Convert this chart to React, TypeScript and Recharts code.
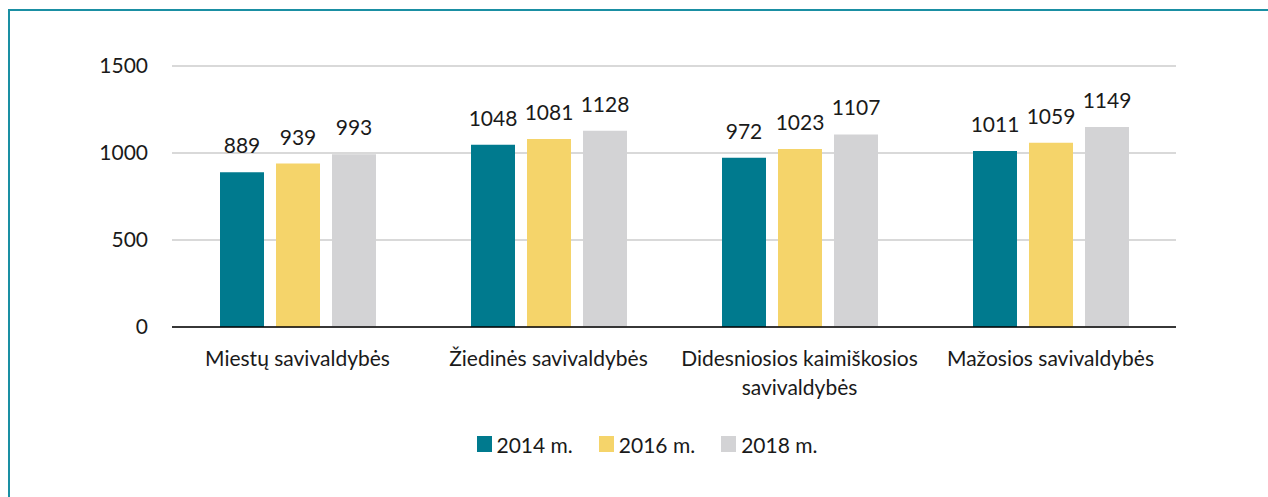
import React from 'react';
import { BarChart, Bar, XAxis, YAxis, CartesianGrid, LabelList, Legend, Text } from 'recharts';

const categories = [
  'Miestų savivaldybės',
  'Žiedinės savivaldybės',
  'Didesniosios kaimiškosios savivaldybės',
  'Mažosios savivaldybės',
];
const values2014 = [889, 1048, 972, 1011];
const values2016 = [939, 1081, 1023, 1059];
const values2018 = [993, 1128, 1107, 1149];
const yTicks = [0, 500, 1000, 1500];

const SERIES = [
  { key: 'y2014', name: '2014 m.', color: '#007A8E' },
  { key: 'y2016', name: '2016 m.', color: '#F5D46A' },
  { key: 'y2018', name: '2018 m.', color: '#D3D3D5' },
];

const FONT = 'Lato, "Open Sans", sans-serif';

const data = categories.map((name, i) => ({
  name,
  y2014: values2014[i],
  y2016: values2016[i],
  y2018: values2018[i],
}));

const CategoryTick = ({ x, y, payload }: any) => (
  <Text
    x={x}
    y={y + 24}
    width={245}
    textAnchor="middle"
    verticalAnchor="start"
    lineHeight={29}
    fontSize={21}
    fontFamily={FONT}
    fill="#1a1a1a"
  >
    {payload.value}
  </Text>
);

const LegendContent = () => (
  <div style={{ display: 'flex', justifyContent: 'center', height: 20, alignItems: 'center', fontFamily: FONT, fontSize: 21, color: '#1a1a1a', paddingLeft: 26 }}>
    {SERIES.map((s) => (
      <div key={s.key} style={{ display: 'flex', alignItems: 'center', margin: '0 13px' }}>
        <span style={{ width: 15, height: 16, background: s.color, display: 'inline-block', marginRight: 5 }} />
        <span>{s.name}</span>
      </div>
    ))}
  </div>
);

export default function App() {
  return (
    <div style={{ position: 'absolute', left: 0, top: 0, width: 1268, height: 497, background: '#fff', overflow: 'hidden' }}>
      <div style={{ position: 'absolute', left: 8, top: 9, width: 1270, height: 500, borderTop: '2px solid #1A8FA3', borderLeft: '2px solid #1A8FA3' }} />
      <BarChart
        width={1268}
        height={497}
        data={data}
        margin={{ top: 66, right: 92, left: 0, bottom: 90 }}
        barSize={44}
        barGap={12}
        style={{ position: 'absolute', left: 0, top: 0 }}
      >
        <CartesianGrid vertical={false} stroke="#D9D9D9" strokeWidth={2} />
        <XAxis
          dataKey="name"
          height={60}
          tickLine={false}
          tickSize={0}
          tickMargin={0}
          axisLine={{ stroke: '#000', strokeWidth: 1.5 }}
          tick={<CategoryTick />}
          interval={0}
        />
        <YAxis
          width={172}
          domain={[0, 1500]}
          ticks={yTicks}
          axisLine={false}
          tickLine={false}
          tickMargin={18}
          tick={{ fontSize: 21, fontFamily: FONT, fill: '#1a1a1a' }}
        />
        <Legend
          verticalAlign="bottom"
          content={<LegendContent />}
          wrapperStyle={{ bottom: 43, left: 0, width: 1268, height: 20 }}
        />
        {SERIES.map((s) => (
          <Bar key={s.key} dataKey={s.key} name={s.name} fill={s.color} isAnimationActive={false}>
            <LabelList
              dataKey={s.key}
              position="top"
              offset={19}
              style={{ fontSize: 21, fontFamily: FONT, fill: '#1a1a1a' }}
            />
          </Bar>
        ))}
      </BarChart>
    </div>
  );
}
